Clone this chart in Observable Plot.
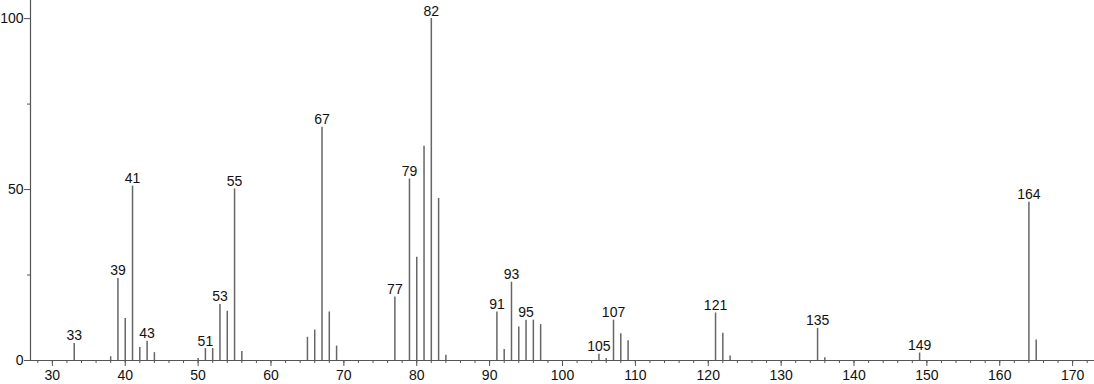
<!DOCTYPE html>
<html>
<head>
<meta charset="utf-8">
<script src="https://cdn.jsdelivr.net/npm/d3@7"></script>
<script src="https://cdn.jsdelivr.net/npm/@observablehq/plot@0.6"></script>
<style>
  html, body { margin: 0; padding: 0; background: #fff; }
</style>
</head>
<body>
<div id="chart"></div>
<script>
const mz = [33, 38, 39, 40, 41, 42, 43, 44, 50, 51, 52, 53, 54, 55, 56,
            65, 66, 67, 68, 69, 77, 79, 80, 81, 82, 83, 84,
            91, 92, 93, 94, 95, 96, 97, 105, 106, 107, 108, 109,
            121, 122, 123, 135, 136, 149, 164, 165];
const intensity = [5.0, 1.1, 24.0, 12.3, 51.0, 3.8, 5.6, 2.3, 0.6, 3.5, 3.5, 16.4, 14.4, 50.2, 2.6,
                   6.8, 8.9, 68.2, 14.2, 4.2, 18.6, 53.1, 30.2, 62.7, 100, 47.4, 1.5,
                   14.2, 3.2, 22.9, 9.8, 11.8, 11.8, 10.5, 1.8, 0.6, 11.8, 7.8, 5.8,
                   13.9, 8.0, 1.3, 9.4, 0.8, 2.2, 46.3, 6.0];
const labeledPeaks = [33, 39, 41, 43, 51, 53, 55, 67, 77, 79, 82, 91, 93, 95, 105, 107, 121, 135, 149, 164];
const xTickLabels = [30, 40, 50, 60, 70, 80, 90, 100, 110, 120, 130, 140, 150, 160, 170];
const xMinorTicks = d3.range(28, 173, 2);
const yTickLabels = [0, 50, 100];
const yMinorTicks = [25, 75];

const peaks = mz.map((m, i) => ({mz: m, i: intensity[i]}));
const labels = peaks.filter(d => labeledPeaks.includes(d.mz));

const axisColor = "#555";
const chart = Plot.plot({
  width: 1094,
  height: 384,
  marginLeft: 30,
  marginRight: 0,
  marginTop: 0,
  marginBottom: 24,
  style: {fontFamily: "'Liberation Sans', Arial, sans-serif", fontSize: "14px", color: "#111", background: "#fff"},
  x: {domain: [27, 173], label: null},
  y: {domain: [0, 105.3], label: null},
  marks: [
    Plot.ruleX(peaks, {x: "mz", y1: 0, y2: "i", stroke: "#666", strokeWidth: 1.5}),
    Plot.text(labels, {x: "mz", y: "i", text: d => String(d.mz), dy: -3, lineAnchor: "bottom", fontSize: 14, fill: "#111"}),
    Plot.axisX({ticks: xMinorTicks, tickSize: 3, text: null, stroke: axisColor, label: null}),
    Plot.axisX({ticks: xTickLabels, tickSize: 6, tickPadding: 4, fontSize: 14, stroke: axisColor, fill: "#111", label: null}),
    Plot.axisY({ticks: yMinorTicks, tickSize: 3, text: null, stroke: axisColor, label: null}),
    Plot.axisY({ticks: yTickLabels, tickSize: 6, tickPadding: 1, fontSize: 14, stroke: axisColor, fill: "#111", label: null}),
    Plot.ruleX([27], {stroke: axisColor, strokeWidth: 1.2}),
    Plot.ruleY([0], {stroke: axisColor, strokeWidth: 1.2})
  ]
});
document.getElementById("chart").appendChild(chart);
</script>
</body>
</html>
